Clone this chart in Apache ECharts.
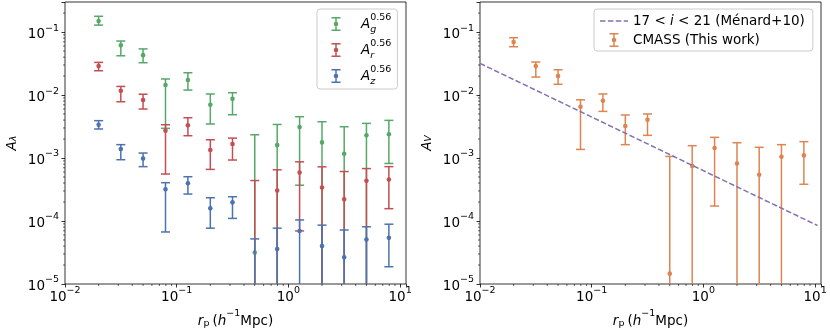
<!DOCTYPE html>
<html>
<head>
<meta charset="utf-8">
<script src="https://cdn.jsdelivr.net/npm/echarts@6/dist/echarts.min.js"></script>
<style>
  html, body { margin: 0; padding: 0; background: #fff; }
  #main { width: 830px; height: 332px; }
</style>
</head>
<body>
<div id="main"></div>
<script>
// projected separation bins (h^-1 Mpc)
var rp = [0.02, 0.0316, 0.05, 0.0794, 0.126, 0.2, 0.316, 0.5, 0.794, 1.26, 2.0, 3.16, 5.0, 7.94];

// left panel: A_g, A_r, A_z (0 in a low bound = bar runs below the axis, null = point off scale)
var gVal = [0.150, 0.0615, 0.043, 0.0144, 0.0173, 0.0070, 0.0087, 3.15e-5, 0.0016, 0.0031, 0.00177, 0.00117, 0.00229, 0.00238];
var gHi  = [0.178, 0.072, 0.054, 0.018, 0.0226, 0.0104, 0.0109, 0.00234, 0.00341, 0.00453, 0.00377, 0.00314, 0.00355, 0.00396];
var gLo  = [0.129, 0.042, 0.0326, 0.00296, 0.012, 0.00347, 0.00487, 0, 0, 3.7e-4, 0, 0, 0, 8.2e-4];

var rVal = [0.0288, 0.0117, 0.00834, 0.00271, 0.0033, 0.00134, 0.00167, null, 3.04e-4, 5.88e-4, 3.4e-4, 2.22e-4, 4.34e-4, 4.55e-4];
var rHi  = [0.033, 0.0137, 0.0103, 0.00338, 0.00436, 0.00195, 0.00207, 4.39e-4, 6.5e-4, 8.7e-4, 7.25e-4, 6.1e-4, 6.8e-4, 7.3e-4];
var rLo  = [0.0243, 0.00783, 0.006, 5.57e-4, 0.00226, 6.6e-4, 9.3e-4, 0, 0, 6.96e-5, 0, 0, 0, 1.57e-4];

var zVal = [0.00338, 0.00139, 0.00098, 3.2e-4, 3.96e-4, 1.59e-4, 1.98e-4, null, 3.6e-5, 6.96e-5, 4.0e-5, 2.65e-5, 5.1e-5, 5.4e-5];
var zHi  = [0.00392, 0.00163, 0.0012, 4.06e-4, 5.05e-4, 2.34e-4, 2.43e-4, 5.2e-5, 7.7e-5, 1.04e-4, 8.6e-5, 7.2e-5, 8.1e-5, 8.9e-5];
var zLo  = [0.00289, 0.00094, 0.00073, 6.7e-5, 2.68e-4, 7.7e-5, 1.1e-4, 0, 0, 0, 0, 0, 0, 1.88e-5];

// right panel: A_V for CMASS
var vVal = [0.0693, 0.0288, 0.0200, 0.00652, 0.00813, 0.00322, 0.00405, 1.46e-5, 7.47e-4, 0.00144, 8.2e-4, 5.43e-4, 0.00105, 0.0011];
var vHi  = [0.0813, 0.0334, 0.0252, 0.0084, 0.0104, 0.00482, 0.005, 0.00106, 0.00157, 0.00213, 0.00175, 0.00148, 0.00163, 0.00182];
var vLo  = [0.0585, 0.0193, 0.0148, 0.00137, 0.0055, 0.00163, 0.00229, 0, 0, 1.73e-4, 0, 0, 0, 3.83e-4];

// Ménard+10 power law (17 < i < 21)
var menardX = [0.01, 10.5];
var menardY = [0.0318, 8.5e-5];

var X_MIN = 0.01, X_MAX = 11.3, Y_MIN = 1e-5, Y_MAX = 0.3;
var FONT = 'DejaVu Sans';
var C_G = '#55a868', C_R = '#c44e52', C_Z = '#4c72b0', C_V = '#dd8452', C_M = '#8172b3';

var myChart = echarts.init(document.getElementById('main'), null, { renderer: 'canvas' });

function rows (val, lo, hi) {
	var out = [];
	for (var i = 0; i < rp.length; i++) {
		out.push([rp[i], val[i], lo[i], hi[i]]);
	}
	return out;
}

//误差棒
function renderErr (params, api) {
	var cs = params.coordSys;
	var bottom = cs.y + cs.height;
	var x = api.value(0), y = api.value(1), lo = api.value(2), hi = api.value(3);
	var color = api.visual('color');
	var pTop = api.coord([x, hi]);
	var px = pTop[0];
	var loY = bottom, loCap = false;
	if (lo > 0) {
		var p = api.coord([x, lo])[1];
		if (p <= bottom) { loY = p; loCap = true; }
	}
	var st = { stroke: color, lineWidth: 1.5 };
	var kids = [
		{ type: 'line', shape: { x1: px, y1: pTop[1], x2: px, y2: loY }, style: st },
		{ type: 'line', shape: { x1: px - 4.5, y1: pTop[1], x2: px + 4.5, y2: pTop[1] }, style: st }
	];
	if (loCap) {
		kids.push({ type: 'line', shape: { x1: px - 4.5, y1: loY, x2: px + 4.5, y2: loY }, style: st });
	}
	if (y > 0) {
		var pc = api.coord([x, y]);
		if (pc[1] <= bottom) {
			kids.push({ type: 'circle', shape: { cx: px, cy: pc[1], r: 2.3 }, style: { fill: color } });
		}
	}
	return { type: 'group', children: kids };
}

// minor ticks of the log axes (2..9 x 10^k)
var minorX = [], minorY = [];
for (var k = -2; k <= 1; k++) {
	for (var m = 2; m <= 9; m++) {
		var v = m * Math.pow(10, k);
		if (v < X_MAX) minorX.push([v, 1e-3]);
	}
}
for (var k2 = -5; k2 <= -1; k2++) {
	for (var m2 = 2; m2 <= 9; m2++) {
		var v2 = m2 * Math.pow(10, k2);
		if (v2 < Y_MAX) minorY.push([0.1, v2]);
	}
}
function renderMinorX (params, api) {
	var cs = params.coordSys;
	var p = api.coord([api.value(0), api.value(1)]);
	var b = cs.y + cs.height;
	return { type: 'line', shape: { x1: p[0], y1: b, x2: p[0], y2: b + 2 }, style: { stroke: '#000', lineWidth: 0.6 } };
}
function renderMinorY (params, api) {
	var cs = params.coordSys;
	var p = api.coord([api.value(0), api.value(1)]);
	return { type: 'line', shape: { x1: cs.x - 2, y1: p[1], x2: cs.x, y2: p[1] }, style: { stroke: '#000', lineWidth: 0.6 } };
}

function powLabel (v) {
	var l = Math.log10(v);
	var e = Math.round(l);
	if (Math.abs(l - e) > 1e-6) return '';
	return '{b|10}{s|' + (e < 0 ? '\u2212' : '') + Math.abs(e) + '}';
}
var tickRich = {
	b: { fontFamily: FONT, fontSize: 13.5, color: '#000', lineHeight: 18, verticalAlign: 'bottom' },
	s: { fontFamily: FONT, fontSize: 9.5, color: '#000', lineHeight: 12, verticalAlign: 'top' }
};

function xAxisOpt (gi) {
	return {
		type: 'log', gridIndex: gi, min: X_MIN, max: X_MAX, logBase: 10, interval: 1,
		axisLine: { show: false },
		axisTick: { show: true, length: 3.5, lineStyle: { color: '#000', width: 0.8 } },
		splitLine: { show: false },
		axisLabel: { margin: 2, formatter: powLabel, rich: tickRich },
		name: '{r|r}{p|p}{n|(}{h|h}{s|\u22121}{n|Mpc)}',
		nameLocation: 'middle', nameGap: 20,
		nameTextStyle: {
			rich: {
				r: { fontFamily: FONT, fontSize: 13.5, fontStyle: 'italic', color: '#000', lineHeight: 20, verticalAlign: 'bottom' },
				p: { fontFamily: FONT, fontSize: 9.5, color: '#000', lineHeight: 20, verticalAlign: 'bottom', padding: [0, 3, 0, 0] },
				n: { fontFamily: FONT, fontSize: 13.5, color: '#000', lineHeight: 20, verticalAlign: 'bottom' },
				h: { fontFamily: FONT, fontSize: 13.5, fontStyle: 'italic', color: '#000', lineHeight: 20, verticalAlign: 'bottom' },
				s: { fontFamily: FONT, fontSize: 9.5, color: '#000', lineHeight: 12, verticalAlign: 'top' }
			}
		}
	};
}
function yAxisOpt (gi, name) {
	return {
		type: 'log', gridIndex: gi, min: Y_MIN, max: Y_MAX, logBase: 10, interval: 1,
		axisLine: { show: false },
		axisTick: { show: true, length: 3.5, lineStyle: { color: '#000', width: 0.8 } },
		splitLine: { show: false },
		axisLabel: { margin: 6, formatter: powLabel, rich: tickRich },
		name: name, nameLocation: 'middle', nameGap: 46, nameRotate: 90,
		nameTextStyle: {
			rich: {
				a: { fontFamily: FONT, fontSize: 13.5, fontStyle: 'italic', color: '#000', lineHeight: 18, verticalAlign: 'bottom' },
				u: { fontFamily: FONT, fontSize: 9.5, fontStyle: 'italic', color: '#000', lineHeight: 14, verticalAlign: 'bottom' }
			}
		}
	};
}

var errIcon = 'path://M0,0H9V1.5H0Z M3.75,1.5H5.25V12.5H3.75Z M0,12.5H9V14H0Z M2.2,7A2.3,2.3 0 1,1 6.8,7A2.3,2.3 0 1,1 2.2,7Z';
var dashIcon = 'path://M0,0H5.5V1.5H0Z M7.9,0H13.4V1.5H7.9Z M15.8,0H21.3V1.5H15.8Z M23.7,0H28V1.5H23.7Z';

var legendBase = {
	orient: 'vertical', selectedMode: false, align: 'left',
	itemWidth: 28, itemHeight: 14,
	backgroundColor: 'rgba(255,255,255,0.8)', borderColor: '#cccccc', borderWidth: 1, borderRadius: 3,
	itemStyle: { borderWidth: 0 }
};

var gridBase = { show: true, borderColor: '#000', borderWidth: 0.8, backgroundColor: 'transparent', containLabel: false, outerBoundsMode: 'none' };

var trendsoption = {
	animation: false,
	backgroundColor: '#fff',
	grid: [
		Object.assign({ left: 65, top: 2, width: 341, height: 282 }, gridBase),
		Object.assign({ left: 480, top: 2, width: 341, height: 282 }, gridBase)
	],
	xAxis: [xAxisOpt(0), xAxisOpt(1)],
	yAxis: [yAxisOpt(0, '{a|A}{u|\u03bb}'), yAxisOpt(1, '{a|A}{u|V}')],
	legend: [
		Object.assign({}, legendBase, {
			// 图标只有9px宽，内容框从图标左边算起，所以左边距要大一些
			left: 317, top: 9, padding: [4, 6, 2, 14.5], itemGap: 4,
			data: [{ name: 'g', icon: errIcon }, { name: 'r', icon: errIcon }, { name: 'z', icon: errIcon }],
			formatter: function (name) { return '{a|A}{sub|' + name + '}{sup|0.56}'; },
			textStyle: {
				rich: {
					a: { fontFamily: FONT, fontSize: 13.5, fontStyle: 'italic', color: '#000', lineHeight: 22, verticalAlign: 'middle', padding: [0, 0, 0, 6] },
					sub: { fontFamily: FONT, fontSize: 9.5, fontStyle: 'italic', color: '#000', lineHeight: 22, verticalAlign: 'bottom', width: 0 },
					sup: { fontFamily: FONT, fontSize: 9.5, color: '#000', lineHeight: 22, verticalAlign: 'top' }
				}
			}
		}),
		Object.assign({}, legendBase, {
			left: 594, top: 9, padding: [5, 8, 4, 6], itemGap: 5,
			data: [{ name: 'menard', icon: dashIcon }, { name: 'cmass', icon: errIcon }],
			formatter: function (name) {
				if (name === 'menard') return '{n|17 < }{i|i}{n| < 21 (M\u00e9nard+10)}';
				return '{n|CMASS (This work)}';
			},
			textStyle: {
				rich: {
					n: { fontFamily: FONT, fontSize: 13.5, color: '#000', lineHeight: 16 },
					i: { fontFamily: FONT, fontSize: 13.5, fontStyle: 'italic', color: '#000', lineHeight: 16 }
				}
			}
		})
	],
	series: [
		{ type: 'custom', name: 'minx0', xAxisIndex: 0, yAxisIndex: 0, silent: true, renderItem: renderMinorX, data: minorX },
		{ type: 'custom', name: 'miny0', xAxisIndex: 0, yAxisIndex: 0, silent: true, renderItem: renderMinorY, data: minorY },
		{ type: 'custom', name: 'minx1', xAxisIndex: 1, yAxisIndex: 1, silent: true, renderItem: renderMinorX, data: minorX },
		{ type: 'custom', name: 'miny1', xAxisIndex: 1, yAxisIndex: 1, silent: true, renderItem: renderMinorY, data: minorY },
		{ type: 'custom', name: 'g', xAxisIndex: 0, yAxisIndex: 0, itemStyle: { color: C_G }, encode: { x: 0, y: 1 }, renderItem: renderErr, data: rows(gVal, gLo, gHi) },
		{ type: 'custom', name: 'r', xAxisIndex: 0, yAxisIndex: 0, itemStyle: { color: C_R }, encode: { x: 0, y: 1 }, renderItem: renderErr, data: rows(rVal, rLo, rHi) },
		{ type: 'custom', name: 'z', xAxisIndex: 0, yAxisIndex: 0, itemStyle: { color: C_Z }, encode: { x: 0, y: 1 }, renderItem: renderErr, data: rows(zVal, zLo, zHi) },
		{
			type: 'line', name: 'menard', xAxisIndex: 1, yAxisIndex: 1, symbol: 'none',
			itemStyle: { color: C_M },
			lineStyle: { color: C_M, width: 1.5, type: [5.5, 2.4] },
			data: menardX.map(function (x, i) { return [x, menardY[i]]; })
		},
		{ type: 'custom', name: 'cmass', xAxisIndex: 1, yAxisIndex: 1, itemStyle: { color: C_V }, encode: { x: 0, y: 1 }, renderItem: renderErr, data: rows(vVal, vLo, vHi) }
	]
};
myChart.setOption(trendsoption);
</script>
</body>
</html>
